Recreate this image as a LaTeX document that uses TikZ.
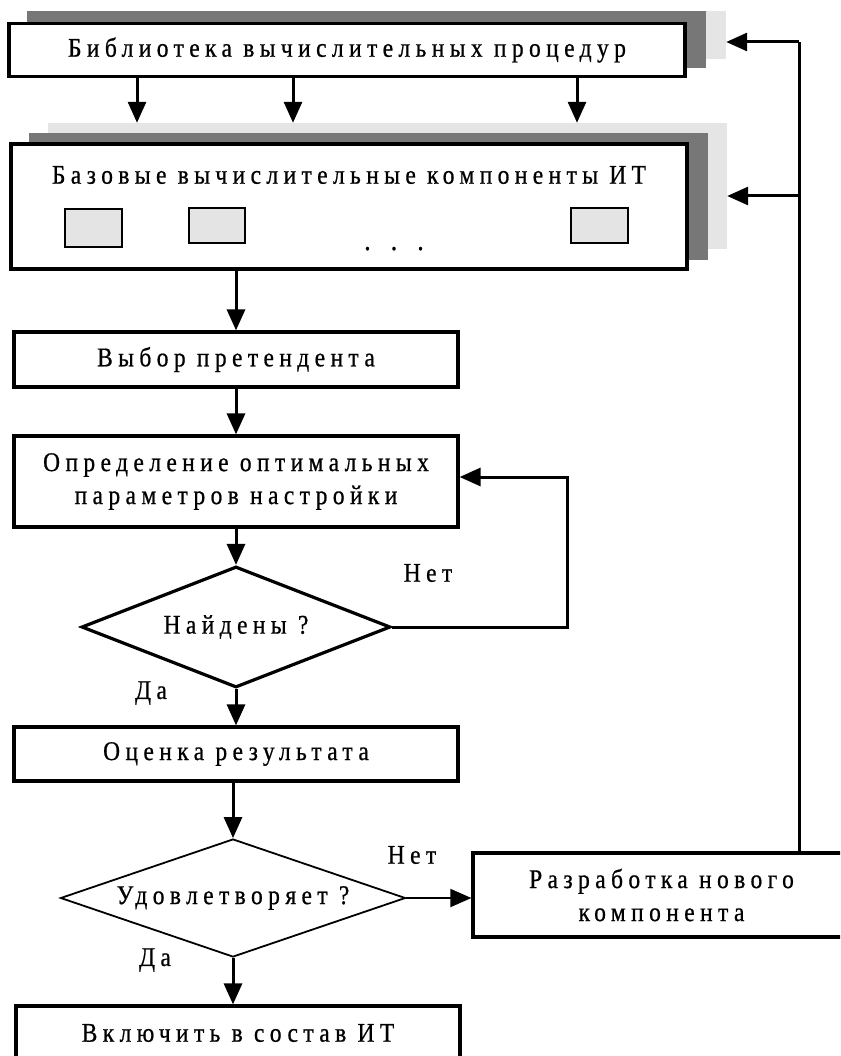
\documentclass[tikz,border=0pt]{standalone}
\usepackage{fontspec}
\setmainfont{Liberation Serif}[FakeStretch=0.87, LetterSpace=20, FakeBold=0.7]
\usetikzlibrary{arrows.meta,shapes.geometric}
\newcommand\dgfont{\fontsize{27}{33}\selectfont}
\definecolor{shdark}{HTML}{777777}
\definecolor{shlight}{HTML}{E5E5E5}
\definecolor{cmpfill}{HTML}{E4E4E4}
\tikzset{
  box/.style={draw, line width=3.2pt, fill=white, inner sep=0pt, align=center, font=\dgfont},
  shl/.style={fill=shlight, inner sep=0pt},
  shd/.style={fill=shdark, inner sep=0pt},
  cmp/.style={draw, line width=1.5pt, fill=cmpfill, inner sep=0pt},
  dia/.style={draw, diamond, inner sep=0pt, fill=white},
  lbl/.style={font=\dgfont, inner sep=0pt},
  conn/.style={line width=3pt},
  arr/.style={line width=3pt, -{Triangle[length=21pt,width=18pt]}},
  thinarr/.style={line width=1.8pt, -{Triangle[length=21pt,width=18pt]}},
}
\begin{document}
\begin{tikzpicture}[x=1pt,y=-1pt]
\useasboundingbox (0,0) rectangle (840,1056);
\clip (0,0) rectangle (840,1056);
% library with layers
\node[shl, minimum width=680pt, minimum height=48pt] (libL) at (386,35) {};
\node[shd, minimum width=679pt, minimum height=57pt] (libD) at (366.5,39.5) {};
\node[box, minimum width=676pt, minimum height=53pt] (lib) at (347,50) {Библиотека вычислительных процедур};
% base components with layers
\node[shl, minimum width=679pt, minimum height=126pt] (baseL) at (387.5,186) {};
\node[shd, minimum width=679pt, minimum height=127pt] (baseD) at (368,196.5) {};
\node[box, minimum width=676pt, minimum height=125pt] (base) at (349,206.5) {};
\node[lbl] (baset) at (349,175) {Базовые вычислительные компоненты ИТ};
\node[cmp, minimum width=57pt, minimum height=38pt] (c1) at (93.5,228) {};
\node[cmp, minimum width=56pt, minimum height=35pt] (c2) at (217,225.5) {};
\node[cmp, minimum width=57pt, minimum height=35pt] (c3) at (599.5,225.5) {};
\node[lbl, anchor=base] (dots) at (394,250) {\fontsize{30}{33}\selectfont .\hspace{20pt}.\hspace{20pt}.};
% flow
\node[box, minimum width=444pt, minimum height=55pt] (vyb) at (236,359.5) {Выбор претендента};
\node[box, minimum width=444pt, minimum height=91pt] (opr) at (236,481.5) {Определение оптимальных\\параметров настройки};
\node[dia, line width=3.2pt, minimum width=309pt, minimum height=121pt] (d1) at (236,627) {};
\node[lbl] (d1t) at (236,627) {Найдены ?};
\node[box, minimum width=444pt, minimum height=54pt] (oc) at (236,754) {Оценка результата};
\node[dia, line width=1.8pt, minimum width=345pt, minimum height=118pt] (d2) at (233,898) {};
\node[lbl] (d2t) at (233,898) {Удовлетворяет ?};
\node[box, minimum width=444pt, minimum height=54pt] (vkl) at (238,1033) {Включить в состав ИТ};
\node[box, minimum width=377pt, minimum height=84pt] (raz) at (661.5,895) {Разработка нового\\компонента};
% labels
\node[lbl] (net1) at (428,573) {Нет};
\node[lbl] (da1) at (151,693) {Да};
\node[lbl] (net2) at (412,855) {Нет};
\node[lbl] (da2) at (155,960) {Да};
% coordinates
\coordinate (a1) at (137,100);
\coordinate (a2) at (293,100);
\coordinate (a3) at (577,100);
\coordinate (lp) at (567,477);
\coordinate (fb) at (799,42);
\coordinate (fbm) at (799,196);
% connectors
\draw[arr] (lib.south -| a1) -- (baseL.north -| a1);
\draw[arr] (lib.south -| a2) -- (baseL.north -| a2);
\draw[arr] (lib.south -| a3) -- (baseL.north -| a3);
\draw[arr] (base.south -| vyb.north) -- (vyb.north);
\draw[arr] (vyb.south) -- (opr.north);
\draw[arr] (opr.south) -- (d1.north);
\draw[arr] (d1.east) -| (lp) -- (lp -| opr.east);
\draw[arr] (d1.south) -- (oc.north);
\draw[arr] (oc.south -| d2.north) -- (d2.north);
\draw[thinarr] (d2.east) -- (d2.east -| raz.west);
\draw[arr] (d2.south) -- (d2.south |- vkl.north);
\draw[conn] (raz.north -| fb) -- (fb);
\draw[arr] (fb) -- (fb -| libL.east);
\draw[arr] (fbm) -- (fbm -| baseL.east);
\end{tikzpicture}
\end{document}
